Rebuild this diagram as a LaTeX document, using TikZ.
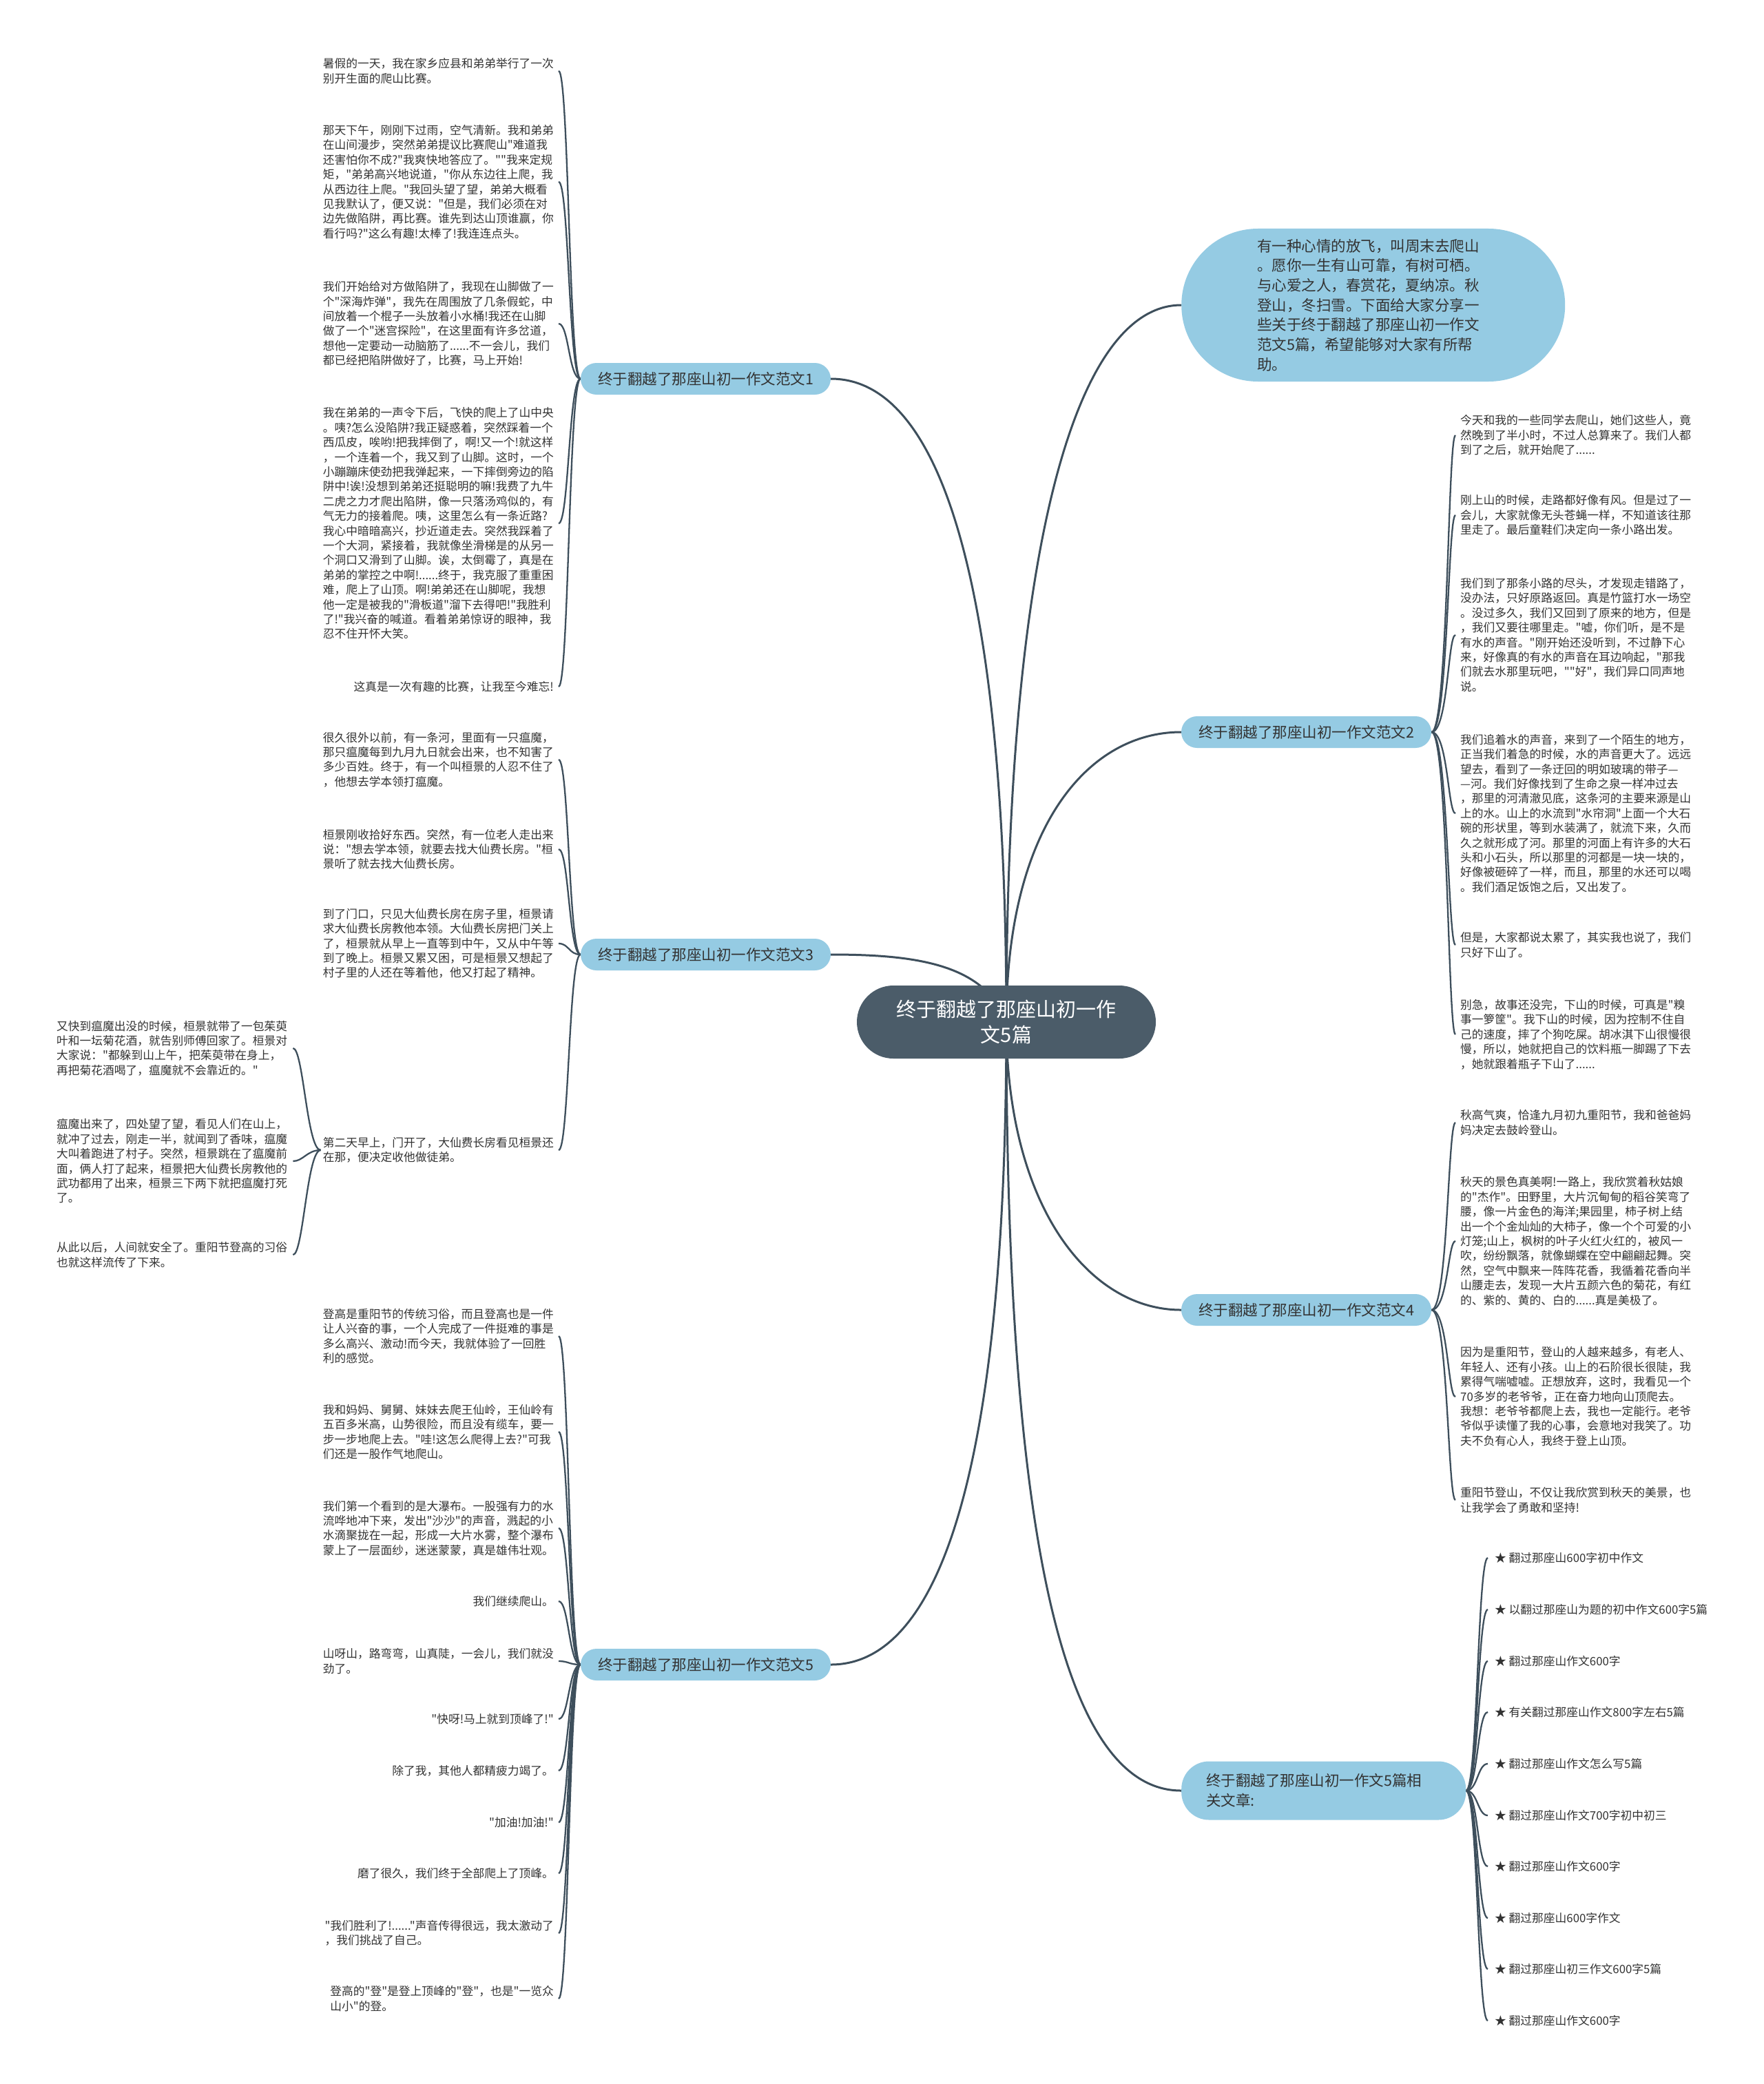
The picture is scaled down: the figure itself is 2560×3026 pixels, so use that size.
\documentclass[tikz,border=0pt]{standalone}
\usepackage{fontspec}
\setmainfont{Noto Sans CJK SC}[Ligatures=TeXOff]
\pgfdeclarelayer{bg}
\pgfsetlayers{bg,main}
\definecolor{linec}{HTML}{3E4F5C}
\definecolor{brfill}{HTML}{95CBE3}
\definecolor{cenfill}{HTML}{4B5C69}
\definecolor{txt}{HTML}{333333}
\newcommand\leaffnt{\fontsize{16.75pt}{21.4pt}\selectfont}
\newcommand\brfnt{\fontsize{21.5pt}{28.7pt}\selectfont}
\newcommand\cenfnt{\fontsize{29pt}{37pt}\selectfont}
\begin{document}
\begin{tikzpicture}[x=1pt,y=-1pt,
  leafL/.style={anchor=east, align=left, inner sep=0pt, font=\leaffnt, text=txt},
  leafR/.style={anchor=west, align=left, inner sep=0pt, font=\leaffnt, text=txt},
  branch/.style={fill=brfill, rounded corners=23pt, minimum width=363pt, minimum height=46pt, inner sep=0pt, font=\brfnt, text=txt},
  mainc/.style={draw=linec, line width=3pt},
  leafc/.style={draw=linec, line width=2.3pt}]
\useasboundingbox (0,0) rectangle (2560,3026);

% center and branches
\node[fill=cenfill, rounded corners=53pt, minimum width=434pt, minimum height=106pt, inner sep=0pt, font=\cenfnt, text=white, align=center] (c) at (1461,1484) {终于翻越了那座山初一作\\文5篇};
\coordinate (cc) at (1461,1484);
\node[branch] (b1) at (1024.5,550) {终于翻越了那座山初一作文范文1};
\node[branch] (b3) at (1024.5,1386) {终于翻越了那座山初一作文范文3};
\node[branch] (b5) at (1024.5,2417) {终于翻越了那座山初一作文范文5};
\node[branch] (b2) at (1896.5,1063) {终于翻越了那座山初一作文范文2};
\node[branch] (b4) at (1896.5,1902) {终于翻越了那座山初一作文范文4};
\node[fill=brfill, rounded corners=40pt, minimum height=85pt, inner xsep=36pt, inner ysep=0pt, text width=341pt, align=left, anchor=west, font=\brfnt, text=txt] (b6) at (1715,2600) {终于翻越了那座山初一作文5篇相\\关文章:};
\node[fill=brfill, rounded corners=111pt, minimum height=222pt, inner xsep=110pt, inner ysep=0pt, text width=337pt, align=left, anchor=west, font=\brfnt, text=txt] (intro) at (1715,443) {有一种心情的放飞，叫周末去爬山\\。愿你一生有山可靠，有树可栖。\\与心爱之人，春赏花，夏纳凉。秋\\登山，冬扫雪。下面给大家分享一\\些关于终于翻越了那座山初一作文\\范文5篇，希望能够对大家有所帮\\助。};

% branch 1 leaves
\node[leafL] (l1a) at (804,103) {暑假的一天，我在家乡应县和弟弟举行了一次\\别开生面的爬山比赛。};
\node[leafL] (l1b) at (804,264) {那天下午，刚刚下过雨，空气清新。我和弟弟\\在山间漫步，突然弟弟提议比赛爬山"难道我\\还害怕你不成?"我爽快地答应了。""我来定规\\矩，"弟弟高兴地说道，"你从东边往上爬，我\\从西边往上爬。"我回头望了望，弟弟大概看\\见我默认了，便又说："但是，我们必须在对\\边先做陷阱，再比赛。谁先到达山顶谁赢，你\\看行吗?"这么有趣!太棒了!我连连点头。};
\node[leafL] (l1c) at (804,470) {我们开始给对方做陷阱了，我现在山脚做了一\\个"深海炸弹"，我先在周围放了几条假蛇，中\\间放着一个棍子一头放着小水桶!我还在山脚\\做了一个"迷宫探险"，在这里面有许多岔道，\\想他一定要动一动脑筋了......不一会儿，我们\\都已经把陷阱做好了，比赛，马上开始!};
\node[leafL] (l1d) at (804,760) {我在弟弟的一声令下后，飞快的爬上了山中央\\。咦?怎么没陷阱?我正疑惑着，突然踩着一个\\西瓜皮，唉哟!把我摔倒了，啊!又一个!就这样\\，一个连着一个，我又到了山脚。这时，一个\\小蹦蹦床使劲把我弹起来，一下摔倒旁边的陷\\阱中!诶!没想到弟弟还挺聪明的嘛!我费了九牛\\二虎之力才爬出陷阱，像一只落汤鸡似的，有\\气无力的接着爬。咦，这里怎么有一条近路?\\我心中暗暗高兴，抄近道走去。突然我踩着了\\一个大洞，紧接着，我就像坐滑梯是的从另一\\个洞口又滑到了山脚。诶，太倒霉了，真是在\\弟弟的掌控之中啊!......终于，我克服了重重困\\难，爬上了山顶。啊!弟弟还在山脚呢，我想\\他一定是被我的"滑板道"溜下去得吧!"我胜利\\了!"我兴奋的喊道。看着弟弟惊讶的眼神，我\\忍不住开怀大笑。};
\node[leafL] (l1e) at (804,997) {这真是一次有趣的比赛，让我至今难忘!};

% branch 3 leaves
\node[leafL] (l3a) at (804,1103) {很久很外以前，有一条河，里面有一只瘟魔，\\那只瘟魔每到九月九日就会出来，也不知害了\\多少百姓。终于，有一个叫桓景的人忍不住了\\，他想去学本领打瘟魔。};
\node[leafL] (l3b) at (804,1233) {桓景刚收拾好东西。突然，有一位老人走出来\\说："想去学本领，就要去找大仙费长房。"桓\\景听了就去找大仙费长房。};
\node[leafL] (l3c) at (804,1370) {到了门口，只见大仙费长房在房子里，桓景请\\求大仙费长房教他本领。大仙费长房把门关上\\了，桓景就从早上一直等到中午，又从中午等\\到了晚上。桓景又累又困，可是桓景又想起了\\村子里的人还在等着他，他又打起了精神。};
\node[leafL] (l3d) at (804,1670) {第二天早上，门开了，大仙费长房看见桓景还\\在那，便决定收他做徒弟。};
\node[leafR] (c1) at (82,1522) {又快到瘟魔出没的时候，桓景就带了一包茱萸\\叶和一坛菊花酒，就告别师傅回家了。桓景对\\大家说："都躲到山上午，把茱萸带在身上，\\再把菊花酒喝了，瘟魔就不会靠近的。"};
\node[leafR] (c2) at (82,1686) {瘟魔出来了，四处望了望，看见人们在山上，\\就冲了过去，刚走一半，就闻到了香味，瘟魔\\大叫着跑进了村子。突然，桓景跳在了瘟魔前\\面，俩人打了起来，桓景把大仙费长房教他的\\武功都用了出来，桓景三下两下就把瘟魔打死\\了。};
\node[leafR] (c3) at (82,1822) {从此以后，人间就安全了。重阳节登高的习俗\\也就这样流传了下来。};

% branch 5 leaves
\node[leafL] (l5a) at (804,1940) {登高是重阳节的传统习俗，而且登高也是一件\\让人兴奋的事，一个人完成了一件挺难的事是\\多么高兴、激动!而今天，我就体验了一回胜\\利的感觉。};
\node[leafL] (l5b) at (804,2079) {我和妈妈、舅舅、妹妹去爬王仙岭，王仙岭有\\五百多米高，山势很险，而且没有缆车，要一\\步一步地爬上去。"哇!这怎么爬得上去?"可我\\们还是一股作气地爬山。};
\node[leafL] (l5c) at (804,2219) {我们第一个看到的是大瀑布。一股强有力的水\\流哗地冲下来，发出"沙沙"的声音，溅起的小\\水滴聚拢在一起，形成一大片水雾，整个瀑布\\蒙上了一层面纱，迷迷蒙蒙，真是雄伟壮观。};
\node[leafL] (l5d) at (804,2325) {我们继续爬山。};
\node[leafL] (l5e) at (804,2412) {山呀山，路弯弯，山真陡，一会儿，我们就没\\劲了。};
\node[leafL] (l5f) at (804,2496) {"快呀!马上就到顶峰了!"};
\node[leafL] (l5g) at (804,2571) {除了我，其他人都精疲力竭了。};
\node[leafL] (l5h) at (804,2646) {"加油!加油!"};
\node[leafL] (l5i) at (804,2720) {磨了很久，我们终于全部爬上了顶峰。};
\node[leafL] (l5j) at (804,2807) {"我们胜利了!......"声音传得很远，我太激动了\\，我们挑战了自己。};
\node[leafL] (l5k) at (804,2902) {登高的"登"是登上顶峰的"登"，也是"一览众\\山小"的登。};

% branch 2 leaves
\node[leafR] (r2a) at (2120,632) {今天和我的一些同学去爬山，她们这些人，竟\\然晚到了半小时，不过人总算来了。我们人都\\到了之后，就开始爬了......};
\node[leafR] (r2b) at (2120,748) {刚上山的时候，走路都好像有风。但是过了一\\会儿，大家就像无头苍蝇一样，不知道该往那\\里走了。最后童鞋们决定向一条小路出发。};
\node[leafR] (r2c) at (2120,922) {我们到了那条小路的尽头，才发现走错路了，\\没办法，只好原路返回。真是竹篮打水一场空\\。没过多久，我们又回到了原来的地方，但是\\，我们又要往哪里走。"嘘，你们听，是不是\\有水的声音。"刚开始还没听到，不过静下心\\来，好像真的有水的声音在耳边响起，"那我\\们就去水那里玩吧，""好"，我们异口同声地\\说。};
\node[leafR] (r2d) at (2120,1181) {我们追着水的声音，来到了一个陌生的地方，\\正当我们着急的时候，水的声音更大了。远远\\望去，看到了一条迂回的明如玻璃的带子—\\—河。我们好像找到了生命之泉一样冲过去\\，那里的河清澈见底，这条河的主要来源是山\\上的水。山上的水流到"水帘洞"上面一个大石\\碗的形状里，等到水装满了，就流下来，久而\\久之就形成了河。那里的河面上有许多的大石\\头和小石头，所以那里的河都是一块一块的，\\好像被砸碎了一样，而且，那里的水还可以喝\\。我们酒足饭饱之后，又出发了。};
\node[leafR] (r2e) at (2120,1372) {但是，大家都说太累了，其实我也说了，我们\\只好下山了。};
\node[leafR] (r2f) at (2120,1502) {别急，故事还没完，下山的时候，可真是"糗\\事一箩筐"。我下山的时候，因为控制不住自\\己的速度，摔了个狗吃屎。胡冰淇下山很慢很\\慢，所以，她就把自己的饮料瓶一脚踢了下去\\，她就跟着瓶子下山了......};

% branch 4 leaves
\node[leafR] (r4a) at (2120,1630) {秋高气爽，恰逢九月初九重阳节，我和爸爸妈\\妈决定去鼓岭登山。};
\node[leafR] (r4b) at (2120,1802) {秋天的景色真美啊!一路上，我欣赏着秋姑娘\\的"杰作"。田野里，大片沉甸甸的稻谷笑弯了\\腰，像一片金色的海洋;果园里，柿子树上结\\出一个个金灿灿的大柿子，像一个个可爱的小\\灯笼;山上，枫树的叶子火红火红的，被风一\\吹，纷纷飘落，就像蝴蝶在空中翩翩起舞。突\\然，空气中飘来一阵阵花香，我循着花香向半\\山腰走去，发现一大片五颜六色的菊花，有红\\的、紫的、黄的、白的......真是美极了。};
\node[leafR] (r4c) at (2120,2028) {因为是重阳节，登山的人越来越多，有老人、\\年轻人、还有小孩。山上的石阶很长很陡，我\\累得气喘嘘嘘。正想放弃，这时，我看见一个\\70多岁的老爷爷，正在奋力地向山顶爬去。\\我想：老爷爷都爬上去，我也一定能行。老爷\\爷似乎读懂了我的心事，会意地对我笑了。功\\夫不负有心人，我终于登上山顶。};
\node[leafR] (r4d) at (2120,2178) {重阳节登山，不仅让我欣赏到秋天的美景，也\\让我学会了勇敢和坚持!};

% related links
\node[leafR] (k1) at (2170,2262) {★ 翻过那座山600字初中作文};
\node[leafR] (k2) at (2170,2337) {★ 以翻过那座山为题的初中作文600字5篇};
\node[leafR] (k3) at (2170,2412) {★ 翻过那座山作文600字};
\node[leafR] (k4) at (2170,2486) {★ 有关翻过那座山作文800字左右5篇};
\node[leafR] (k5) at (2170,2561) {★ 翻过那座山作文怎么写5篇};
\node[leafR] (k6) at (2170,2636) {★ 翻过那座山作文700字初中初三};
\node[leafR] (k7) at (2170,2710) {★ 翻过那座山作文600字};
\node[leafR] (k8) at (2170,2785) {★ 翻过那座山600字作文};
\node[leafR] (k9) at (2170,2859) {★ 翻过那座山初三作文600字5篇};
\node[leafR] (k10) at (2170,2934) {★ 翻过那座山作文600字};

\begin{pgfonlayer}{bg}
\fill[white] (0,0) rectangle (2560,3026);
% main connectors
\draw[mainc] (cc) .. controls (1461,900) and (1380,550) .. (b1.east);
\draw[mainc] (cc) .. controls (1430,1400) and (1330,1386) .. (b3.east);
\draw[mainc] (cc) .. controls (1461,2150) and (1360,2417) .. (b5.east);
\draw[mainc] (cc) .. controls (1461,800) and (1560,443) .. (intro.west);
\draw[mainc] (cc) .. controls (1461,1200) and (1580,1063) .. (b2.west);
\draw[mainc] (cc) .. controls (1461,1750) and (1580,1902) .. (b4.west);
\draw[mainc] (cc) .. controls (1461,2300) and (1560,2600) .. (b6.west);
% branch 1
\foreach \n in {l1a,l1b,l1c,l1d,l1e}
  \draw[leafc] (b1.west) .. controls +(-17,0) and +(15,0) .. ([xshift=7pt]\n.east);
% branch 3
\foreach \n in {l3a,l3b,l3c,l3d}
  \draw[leafc] (b3.west) .. controls +(-17,0) and +(15,0) .. ([xshift=7pt]\n.east);
\foreach \n in {c1,c2,c3}
  \draw[leafc] ([xshift=-3pt]l3d.west) .. controls +(-20,0) and +(15,0) .. ([xshift=8pt]\n.east);
% branch 5
\foreach \n in {l5a,l5b,l5c,l5d,l5e,l5f,l5g,l5h,l5i,l5j,l5k}
  \draw[leafc] (b5.west) .. controls +(-17,0) and +(15,0) .. ([xshift=7pt]\n.east);
% branch 2
\foreach \n in {r2a,r2b,r2c,r2d,r2e,r2f}
  \draw[leafc] (b2.east) .. controls +(24,0) and +(-11,0) .. ([xshift=-7pt]\n.west);
% branch 4
\foreach \n in {r4a,r4b,r4c,r4d}
  \draw[leafc] (b4.east) .. controls +(24,0) and +(-11,0) .. ([xshift=-7pt]\n.west);
% links
\foreach \n in {k1,k2,k3,k4,k5,k6,k7,k8,k9,k10}
  \draw[leafc] (b6.east) .. controls +(17,0) and +(-15,0) .. ([xshift=-10pt]\n.west);
\end{pgfonlayer}
\end{tikzpicture}
\end{document}
